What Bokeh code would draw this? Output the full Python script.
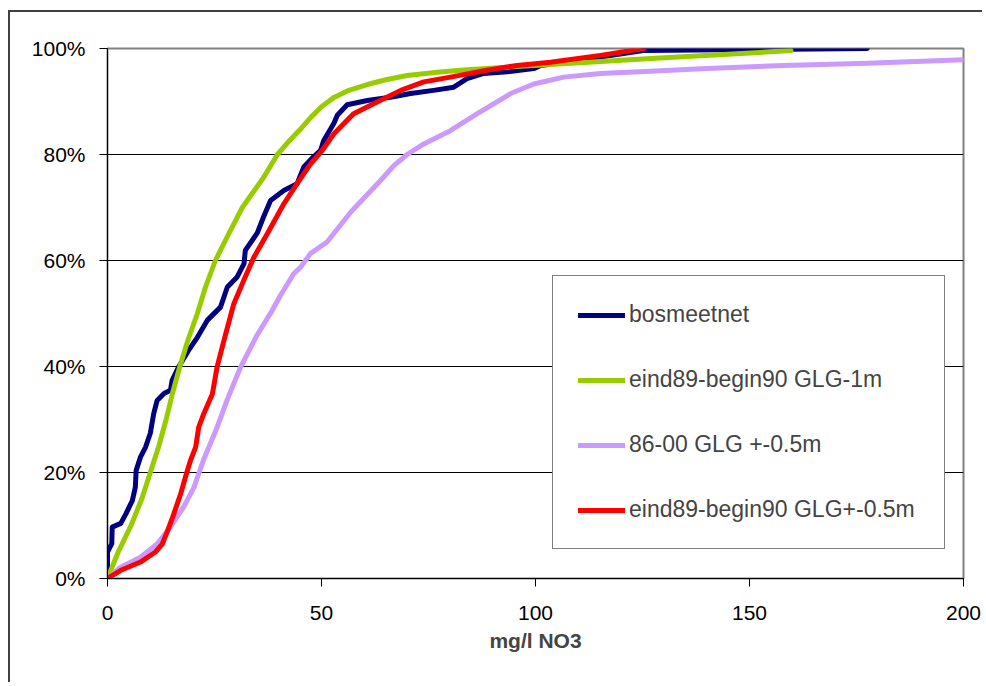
from bokeh.plotting import figure
from bokeh.models import Range1d, FixedTicker, Legend, LegendItem
from bokeh.embed import file_html
from bokeh.resources import INLINE

# ---- data ----
x_ticks = [0, 50, 100, 150, 200]
y_ticks = [0, 20, 40, 60, 80, 100]
y_tick_labels = ["0%", "20%", "40%", "60%", "80%", "100%"]
x_title = "mg/l NO3"

series_names = ["bosmeetnet", "eind89-begin90 GLG-1m", "86-00 GLG +-0.5m",
                "eind89-begin90 GLG+-0.5m"]

bos_x = [0, 0.0, 1.0, 1.1, 3.1, 4.3, 5.8, 6.5, 6.7, 7.7, 8.9, 10.0, 10.8, 11.6, 13.2, 14.7,
         15.1, 16.6, 18.9, 21.0, 23.3, 26.4, 28.0, 30.3, 31.9, 32.2, 35.0, 36.5, 38.1,
         41.2, 44.3, 45.9, 48.2, 49.8, 50.5, 52.9, 53.7, 56.0, 60.7, 66.1, 70.8, 76.2,
         80.9, 84.0, 87.9, 93.4, 99.6, 101.2, 112.0, 125.2, 150.0, 177.5]
bos_y = [0, 5.0, 6.6, 9.7, 10.4, 12.2, 14.7, 17.2, 20.4, 22.9, 24.8, 27.4, 31.1, 33.6, 34.9,
         35.5, 37.4, 39.9, 43.0, 45.5, 48.7, 51.2, 55.0, 56.9, 59.4, 61.9, 65.2, 68.3,
         71.3, 73.2, 74.5, 77.7, 79.6, 80.8, 82.6, 85.9, 87.4, 89.4, 90.2, 90.8, 91.5,
         92.1, 92.7, 94.3, 95.3, 95.6, 96.2, 96.8, 98.0, 99.6, 99.8, 100.0]

green_x = [0, 2.5, 5.5, 8.0, 10.0, 12.0, 13.7, 15.2, 16.9, 18.8, 21.0, 22.9, 25.2, 28.3,
           31.5, 36.5, 39.7, 42.5, 45.1, 47.5, 50.0, 52.8, 56.0, 60.7, 65.0, 70.0, 77.0,
           84.0, 99.5, 127.0, 159.7]
green_y = [0, 5, 10, 15, 20, 25, 30, 35, 40, 45, 50, 55, 60, 65, 70, 75.7, 80, 82.6,
           84.8, 87.0, 89.0, 90.7, 92.0, 93.2, 94.1, 94.9, 95.5, 96.0, 96.8, 98.1, 99.6]

lilac_x = [0, 3.0, 7.7, 11.6, 14.7, 17.8, 20.2, 22.5, 25.6, 28.0, 31.1, 35.0, 38.5, 40.4,
           43.5, 45.1, 47.4, 51.3, 56.8, 63.8, 66.9, 70.0, 73.9, 80.1, 86.4, 94.2, 99.6,
           106.6, 115.2, 126.9, 138.6, 158.0, 177.5, 200.0]
lilac_y = [0, 2.1, 4.0, 6.5, 9.7, 13.5, 17.2, 22.5, 28.5, 33.8, 39.9, 46.0, 50.6, 53.4,
           57.5, 58.7, 61.3, 63.5, 69.1, 75.1, 77.9, 80.0, 82.0, 84.5, 87.7, 91.5, 93.3,
           94.6, 95.3, 95.7, 96.2, 96.8, 97.2, 97.9]

red_x = [0, 3.0, 7.7, 11.2, 12.8, 13.9, 15.5, 17.1, 18.2, 19.4, 20.6, 21.3, 22.5, 24.5,
         25.6, 27.2, 29.5, 31.8, 34.2, 37.3, 41.2, 44.3, 47.4, 50.2, 52.9, 57.5, 63.0,
         68.5, 73.9, 80.1, 87.9, 95.7, 103.5, 115.2, 125.3]
red_y = [0, 1.5, 3.1, 5.0, 6.5, 8.7, 12.2, 16.0, 19.1, 22.3, 24.8, 28.5, 31.1, 34.8,
         39.9, 44.9, 51.8, 56.2, 60.6, 65.0, 70.7, 74.5, 78.2, 80.8, 83.9, 87.7, 89.9,
         92.1, 93.7, 94.6, 95.8, 96.8, 97.4, 98.7, 100.0]

colors = ["#000080", "#99CC00", "#CC99FF", "#FF0000"]

FONT = "Liberation Sans"

p = figure(width=974, height=672, output_backend="svg", toolbar_location=None,
           x_range=Range1d(0, 200), y_range=Range1d(0, 100),
           min_border_left=97, min_border_right=21, min_border_top=36,
           min_border_bottom=106)
# outer chart-area border: only its left and top edges fall inside the window
p.styles = {"margin-left": "8px", "margin-top": "10px",
            "border-left": "2px solid #404040", "border-top": "2px solid #404040"}

p.outline_line_color = "#808080"
p.outline_line_width = 2

# axes
p.xaxis.ticker = FixedTicker(ticks=x_ticks)
p.yaxis.ticker = FixedTicker(ticks=y_ticks)
p.yaxis.major_label_overrides = {t: l for t, l in zip(y_ticks, y_tick_labels)}
for ax in (p.xaxis[0], p.yaxis[0]):
    ax.axis_line_color = "black"
    ax.axis_line_width = 1
    ax.major_tick_line_color = "black"
    ax.major_tick_out = 8
    ax.major_tick_in = 0
    ax.minor_tick_line_color = None
    ax.major_label_text_font = FONT
    ax.major_label_text_font_size = "21px"
    ax.major_label_text_color = "black"
p.yaxis.major_label_standoff = 14
p.xaxis.major_label_standoff = 19
p.xaxis.axis_label = x_title
p.xaxis.axis_label_text_font = FONT
p.xaxis.axis_label_text_font_size = "21px"
p.xaxis.axis_label_text_font_style = "bold"
p.xaxis.axis_label_standoff = 6

p.xgrid.grid_line_color = None
p.ygrid.grid_line_color = "black"
p.ygrid.grid_line_width = 1
p.ygrid.ticker = FixedTicker(ticks=[20, 40, 60, 80])

renderers = []
for xs, ys, c in zip([bos_x, green_x, lilac_x, red_x], [bos_y, green_y, lilac_y, red_y], colors):
    r = p.line(xs, ys, line_color=c, line_width=5, line_join="round", line_cap="round")
    renderers.append(r)

legend = Legend(items=[LegendItem(label=n, renderers=[r]) for n, r in zip(series_names, renderers)],
                location=(445, 29))
legend.border_line_color = "black"
legend.border_line_width = 1
legend.background_fill_color = "white"
legend.background_fill_alpha = 1
legend.label_text_font = FONT
legend.label_text_font_size = "23px"
legend.glyph_width = 47
legend.glyph_height = 22
legend.label_height = 22
legend.label_width = 290
legend.label_standoff = 4
legend.spacing = 38
legend.padding = 25
legend.margin = 0
p.add_layout(legend)

open("out.html", "w").write(file_html(p, INLINE))
